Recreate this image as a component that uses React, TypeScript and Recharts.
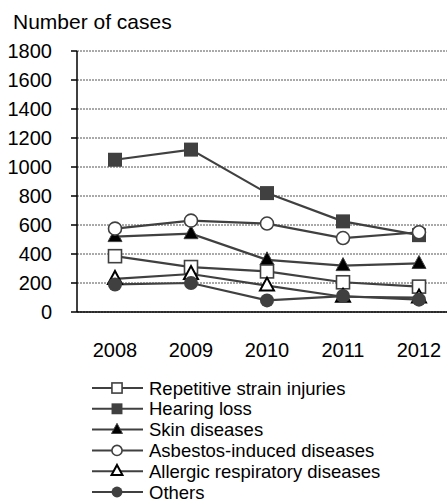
import { LineChart, Line, XAxis, YAxis, CartesianGrid } from "recharts";

const years = ["2008", "2009", "2010", "2011", "2012"];
const repetitive = [385, 310, 280, 205, 175];
const hearing = [1050, 1120, 820, 625, 530];
const skin = [520, 540, 360, 320, 335];
const asbestos = [575, 630, 610, 510, 550];
const allergic = [228, 262, 182, 105, 100];
const others = [190, 200, 80, 110, 85];
const yTicks = [0, 200, 400, 600, 800, 1000, 1200, 1400, 1600, 1800];

const data = years.map((y, i) => ({
  year: y,
  repetitive: repetitive[i],
  hearing: hearing[i],
  skin: skin[i],
  asbestos: asbestos[i],
  allergic: allergic[i],
  others: others[i],
}));

const LINE = "#404040";
const FONT = "'Liberation Sans', Arial, sans-serif";

type Kind = "sqOpen" | "sqFill" | "triFill" | "cirOpen" | "triOpen" | "cirFill";

const series: { key: string; name: string; kind: Kind }[] = [
  { key: "repetitive", name: "Repetitive strain injuries", kind: "sqOpen" },
  { key: "hearing", name: "Hearing loss", kind: "sqFill" },
  { key: "skin", name: "Skin diseases", kind: "triFill" },
  { key: "asbestos", name: "Asbestos-induced diseases", kind: "cirOpen" },
  { key: "allergic", name: "Allergic respiratory diseases", kind: "triOpen" },
  { key: "others", name: "Others", kind: "cirFill" },
];

function Marker({ kind, cx, cy, s = 1 }: { kind: Kind; cx: number; cy: number; s?: number }) {
  if (cx == null || cy == null) return null;
  const h = 6.5 * s;
  switch (kind) {
    case "sqOpen":
      return <rect x={cx - h} y={cy - h} width={2 * h} height={2 * h} fill="#fff" stroke={LINE} strokeWidth={1.6} />;
    case "sqFill":
      return <rect x={cx - 7 * s} y={cy - 7 * s} width={14 * s} height={14 * s} fill={LINE} />;
    case "triFill": {
      const w = 7 * s;
      return (
        <polygon
          points={`${cx},${cy - 8 * s} ${cx + w},${cy + 5 * s} ${cx - w},${cy + 5 * s}`}
          fill="#000"
          stroke={LINE}
          strokeWidth={1}
        />
      );
    }
    case "cirOpen":
      return <circle cx={cx} cy={cy} r={h} fill="#fff" stroke={LINE} strokeWidth={1.6} />;
    case "triOpen": {
      const w = 7 * s;
      return (
        <polygon
          points={`${cx},${cy - 8 * s} ${cx + w},${cy + 5 * s} ${cx - w},${cy + 5 * s}`}
          fill="#fff"
          stroke="#000"
          strokeWidth={2}
          strokeLinejoin="miter"
        />
      );
    }
    case "cirFill":
      return <circle cx={cx} cy={cy} r={7 * s} fill={LINE} />;
  }
}

function ChartLegend() {
  return (
    <svg width={320} height={130} style={{ position: "absolute", left: 80, top: 378 }}>
      {series.map((s, i) => {
        const y = 10 + i * 20.8;
        return (
          <g key={s.key}>
            <line x1={12} x2={63} y1={y} y2={y} stroke={LINE} strokeWidth={2} />
            <Marker kind={s.kind} cx={37} cy={y} s={0.78} />
            <text x={69} y={y + 6.5} fontSize={18.5} fontFamily={FONT} fill="#000">
              {s.name}
            </text>
          </g>
        );
      })}
    </svg>
  );
}

export default function App() {
  return (
    <div
      style={{
        position: "absolute",
        left: 0,
        top: 0,
        width: 447,
        height: 503,
        overflow: "hidden",
        background: "#fff",
        fontFamily: FONT,
      }}
    >
      <div
        style={{
          position: "absolute",
          left: 13,
          top: 11,
          fontSize: 21,
          lineHeight: "21px",
          color: "#000",
          whiteSpace: "nowrap",
        }}
      >
        Number of cases
      </div>
      <LineChart
        width={460}
        height={503}
        data={data}
        margin={{ top: 51, right: 3, bottom: 131, left: 0 }}
      >
        <CartesianGrid vertical={false} stroke="#555" strokeDasharray="2 1" strokeWidth={1} />
        <XAxis
          dataKey="year"
          padding={{ left: 38, right: 38 }}
          axisLine={{ stroke: "#000", strokeWidth: 1.5 }}
          tickLine={false}
          tickSize={0}
          tickMargin={31}
          height={60}
          tick={{ fill: "#000", fontSize: 20, fontFamily: FONT }}
          interval={0}
        />
        <YAxis
          domain={[0, 1800]}
          ticks={yTicks}
          width={77}
          axisLine={{ stroke: "#000", strokeWidth: 1.5 }}
          tickLine={{ stroke: "#000", strokeWidth: 1.5 }}
          tickSize={6}
          tickMargin={19}
          tick={{ fill: "#000", fontSize: 20, fontFamily: FONT }}
          interval={0}
        />
        {series.map((s) => (
          <Line
            key={s.key}
            dataKey={s.key}
            name={s.name}
            stroke={LINE}
            strokeWidth={2.2}
            isAnimationActive={false}
            dot={(p: any) => <Marker key={`${s.key}-${p.index}`} kind={s.kind} cx={p.cx} cy={p.cy} />}
            activeDot={false}
          />
        ))}
      </LineChart>
      <ChartLegend />
    </div>
  );
}
